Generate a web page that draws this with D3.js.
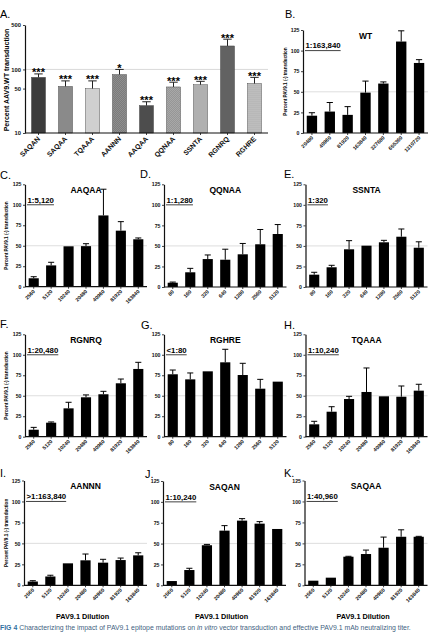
<!DOCTYPE html>
<html>
<head>
<meta charset="utf-8">
<script src="https://cdn.jsdelivr.net/npm/d3@7"></script>
<style>
  body { margin: 0; background: #fff; }
  svg { display: block; font-family: Arial, "Liberation Sans", sans-serif; }
  .tick text { font-weight: bold; fill: #111; }
</style>
</head>
<body>
<div id="fig"></div>
<script>
// ---- panel A: mutants vs AAV9.WT (log scale) ----
const mutants = ["SAQAN", "SAQAA", "TQAAA", "AANNN", "AAQAA", "QQNAA", "SSNTA", "RGNRQ", "RGHRE"];
const mutantMean = [75, 54, 50, 83, 27, 53, 57.5, 234, 60];
const mutantTop = [85, 66, 66, 100, 31, 63, 65, 299, 75];
const mutantStars = ["***", "***", "***", "*", "***", "***", "***", "***", "***"];
const logTicks = [10, 50, 100, 500];

// ---- dilution panels ----
const dilWT = ["20480", "40960", "81920", "163840", "327680", "655360", "1310720"];
const dilHigh = ["2560", "5120", "10240", "20480", "40960", "81920", "163840"];
const dilLow = ["80", "160", "320", "640", "1280", "2560", "5120"];
const pctTicks = [0, 25, 50, 75, 100, 125];

const wtMean = [21, 26, 22, 49, 60, 111, 85];
const wtSD = [3.6, 11, 10, 14, 2, 13, 4];
const aaqaaMean = [10.3, 26, 49.3, 49.5, 87, 68.4, 57.9];
const aaqaaSD = [1.9, 3.8, 0, 3, 32, 11, 1.6];
const qqnaaMean = [5.2, 17.9, 34, 33.2, 39.8, 52, 64.5];
const qqnaaSD = [0.8, 4.8, 5, 12.8, 13.2, 18, 11.5];
const ssntaMean = [15, 24, 45.9, 50.3, 54.4, 61.2, 47.8];
const ssntaSD = [2.9, 2.4, 10.5, 0, 2.4, 9.4, 7.2];
const rgnrqMean = [8.5, 17.1, 34.6, 48.1, 51.8, 65.2, 82.7];
const rgnrqSD = [2.9, 0.9, 7.4, 2.9, 3.6, 5.2, 8.1];
const rghreMean = [76.2, 70, 79.8, 90.8, 75.3, 58.6, 67.2];
const rghreSD = [5.2, 7.8, 0, 15.9, 14.3, 11.4, 0];
const tqaaaMean = [15.1, 30.5, 46, 54.6, 49.3, 48.8, 56.2];
const tqaaaSD = [3.7, 6.1, 3.3, 29.3, 0, 13.1, 7.8];
const aannnMean = [4.5, 10.5, 26.2, 29.8, 27, 30.1, 35.7];
const aannnSD = [1, 1.5, 0, 7.5, 4, 2.4, 3.1];
const saqanMean = [5.1, 18.3, 48, 65.5, 77.5, 73.9, 67.5];
const saqanSD = [0, 2.1, 1, 6, 2.4, 2.4, 0];
const saqaaMean = [5.5, 9.1, 34.1, 37.3, 44.8, 57.9, 57.9];
const saqaaSD = [0, 0, 0.5, 4.7, 12.7, 8.3, 0.5];

const W = 435, H = 632;
const svg = d3.select("#fig").append("svg").attr("width", W).attr("height", H);
const defs = svg.append("defs");

// fill patterns for panel A bars
function hatch(id, base, line, size, kind) {
    const p = defs.append("pattern").attr("id", id).attr("patternUnits", "userSpaceOnUse")
        .attr("width", size).attr("height", size);
    p.append("rect").attr("width", size).attr("height", size).attr("fill", base);
    if (kind === "diag" || kind === "cross") {
        p.append("path").attr("d", `M0,${size} L${size},0`).attr("stroke", line).attr("stroke-width", 0.6);
    }
    if (kind === "cross") {
        p.append("path").attr("d", `M0,0 L${size},${size}`).attr("stroke", line).attr("stroke-width", 0.6);
    }
    if (kind === "dot") {
        p.append("circle").attr("cx", size / 2).attr("cy", size / 2).attr("r", 0.55).attr("fill", line);
    }
}
hatch("pAANNN", "#8e8e8e", "#6f6f6f", 2, "diag");
hatch("pAAQAA", "#5a5a5a", "#444", 2, "cross");
hatch("pQQNAA", "#a8a8a8", "#8a8a8a", 2, "diag");
hatch("pSSNTA", "#c2c2c2", "#a5a5a5", 2, "cross");
hatch("pRGNRQ", "#747474", "#555", 2, "cross");
hatch("pRGHRE", "#c8c8c8", "#8a8a8a", 2, "dot");
const mutantFill = ["#3c3c3c", "#8a8a8a", "#d0d0d0", "url(#pAANNN)", "url(#pAAQAA)",
    "url(#pQQNAA)", "url(#pSSNTA)", "url(#pRGNRQ)", "url(#pRGHRE)"];

function styleAxis(g, size) {
    g.select(".domain").attr("stroke", "#111").attr("stroke-width", 1.2);
    g.selectAll(".tick line").attr("stroke", "#111").attr("stroke-width", 0.8);
    g.selectAll(".tick text").attr("font-size", size);
}

function label(x, y, txt, size, opts = {}) {
    const t = svg.append("text").attr("x", x).attr("y", y).attr("font-size", size).text(txt);
    if (opts.bold) t.attr("font-weight", "bold");
    if (opts.anchor) t.attr("text-anchor", opts.anchor);
    if (opts.rotate) t.attr("transform", `rotate(-90,${x},${y})`);
    return t;
}

// ---- Panel A ----
(function() {
    const x0 = 25, x1 = 268, yb = 133, yt = 25;
    const x = d3.scaleBand().domain(mutants).range([x0, x1]).paddingInner(0.48).paddingOuter(0.24);
    const y = d3.scaleLog().domain([10, 500]).range([yb, yt]);

    svg.append("line").attr("x1", x0).attr("x2", x1).attr("y1", y(100)).attr("y2", y(100))
        .attr("stroke", "#c8c8c8").attr("stroke-width", 0.7);

    const rows = mutants.map((m, i) => ({ m, v: mutantMean[i], top: mutantTop[i], star: mutantStars[i], fill: mutantFill[i] }));

    svg.selectAll(".barA").data(rows).enter().append("rect")
        .attr("x", d => x(d.m)).attr("width", x.bandwidth())
        .attr("y", d => y(d.v)).attr("height", d => yb - y(d.v))
        .attr("fill", d => d.fill).attr("stroke", "#333").attr("stroke-width", 0.4);

    const cap = x.bandwidth() * 0.6;
    rows.forEach(d => {
        const cx = x(d.m) + x.bandwidth() / 2;
        svg.append("line").attr("x1", cx).attr("x2", cx).attr("y1", y(d.v)).attr("y2", y(d.top))
            .attr("stroke", "#222").attr("stroke-width", 1);
        svg.append("line").attr("x1", cx - cap / 2).attr("x2", cx + cap / 2).attr("y1", y(d.top)).attr("y2", y(d.top))
            .attr("stroke", "#222").attr("stroke-width", 1);
        label(cx, y(d.top) + 2.5, d.star, 11, { anchor: "middle", bold: true });
    });

    const gy = svg.append("g").attr("transform", `translate(${x0},0)`)
        .call(d3.axisLeft(y).tickValues(logTicks).tickFormat(d3.format("d")).tickSize(2).tickSizeOuter(0).tickPadding(2));
    styleAxis(gy, 5.8);
    const gx = svg.append("g").attr("transform", `translate(0,${yb})`)
        .call(d3.axisBottom(x).tickSize(2).tickSizeOuter(0));
    styleAxis(gx, 7);
    gx.select(".domain").attr("d", `M${x0},0H${x1}`);
    gx.selectAll(".tick text").attr("text-anchor", "end").attr("x", -3).attr("y", 3.5).attr("dy", "0.35em")
        .attr("transform", "rotate(-45)");

    label(9, (yb + yt) / 2 + 1, "Percent AAV9.WT transduction", 7, { bold: true, anchor: "middle", rotate: true });
    label(0, 18, "A.", 11);
})();

// ---- dilution panels ----
const panels = [
    { key: "B", title: "WT", titer: "1:163,840", cats: dilWT, mean: wtMean, sd: wtSD,
      x0: 303, x1: 428, y0: 133, y1: 30, lx: 285, ly: 18, ylab: 287 },
    { key: "C", title: "AAQAA", titer: "1:5,120", cats: dilHigh, mean: aaqaaMean, sd: aaqaaSD,
      x0: 25, x1: 147, y0: 286.7, y1: 184.3, lx: 0, ly: 179, ylab: 8 },
    { key: "D", title: "QQNAA", titer: "1:1,280", cats: dilLow, mean: qqnaaMean, sd: qqnaaSD,
      x0: 164, x1: 286.5, y0: 287, y1: 184.3, lx: 140, ly: 178 },
    { key: "E", title: "SSNTA", titer: "1:320", cats: dilLow, mean: ssntaMean, sd: ssntaSD,
      x0: 305.5, x1: 427.5, y0: 287, y1: 184.3, lx: 284, ly: 178 },
    { key: "F", title: "RGNRQ", titer: "1:20,480", cats: dilHigh, mean: rgnrqMean, sd: rgnrqSD,
      x0: 25, x1: 147, y0: 436.7, y1: 334.3, lx: 0, ly: 328, ylab: 8 },
    { key: "G", title: "RGHRE", titer: "<1:80", cats: dilLow, mean: rghreMean, sd: rghreSD,
      x0: 164, x1: 286.5, y0: 436.7, y1: 334.3, lx: 141, ly: 329 },
    { key: "H", title: "TQAAA", titer: "1:10,240", cats: dilHigh, mean: tqaaaMean, sd: tqaaaSD,
      x0: 305.5, x1: 427.5, y0: 436.7, y1: 334.3, lx: 284, ly: 329 },
    { key: "I", title: "AANNN", titer: ">1:163,840", cats: dilHigh, mean: aannnMean, sd: aannnSD,
      x0: 24, x1: 147, y0: 585.3, y1: 480.5, lx: 0, ly: 477, ylab: 8, xlab: true },
    { key: "J", title: "SAQAN", titer: "1:10,240", cats: dilHigh, mean: saqanMean, sd: saqanSD,
      x0: 163, x1: 286, y0: 585.3, y1: 481, lx: 145, ly: 477.5, xlab: true },
    { key: "K", title: "SAQAA", titer: "1:40,960", cats: dilHigh, mean: saqaaMean, sd: saqaaSD,
      x0: 304.5, x1: 427.5, y0: 585.3, y1: 480.5, lx: 284, ly: 476.5, xlab: true }
];

panels.forEach(p => {
    const x = d3.scaleBand().domain(p.cats).range([p.x0, p.x1]).paddingInner(0.42).paddingOuter(0.21);
    const y = d3.scaleLinear().domain([0, 125]).range([p.y0, p.y1]);

    svg.append("line").attr("x1", p.x0).attr("x2", p.x1).attr("y1", y(50)).attr("y2", y(50))
        .attr("stroke", "#c8c8c8").attr("stroke-width", 0.6);

    const rows = p.cats.map((c, i) => ({ c, v: p.mean[i], sd: p.sd[i] }));
    const cap = x.bandwidth() * 0.6;

    rows.forEach(d => {
        const cx = x(d.c) + x.bandwidth() / 2;
        if (d.sd > 0) {
            svg.append("line").attr("x1", cx).attr("x2", cx).attr("y1", y(d.v)).attr("y2", y(d.v + d.sd))
                .attr("stroke", "#000").attr("stroke-width", 1);
            svg.append("line").attr("x1", cx - cap / 2).attr("x2", cx + cap / 2)
                .attr("y1", y(d.v + d.sd)).attr("y2", y(d.v + d.sd))
                .attr("stroke", "#000").attr("stroke-width", 1);
        }
    });

    svg.append("g").selectAll("rect").data(rows).enter().append("rect")
        .attr("x", d => x(d.c)).attr("width", x.bandwidth())
        .attr("y", d => y(d.v)).attr("height", d => p.y0 - y(d.v))
        .attr("fill", "#000");

    const gy = svg.append("g").attr("transform", `translate(${p.x0},0)`)
        .call(d3.axisLeft(y).tickValues(pctTicks).tickSize(2).tickSizeOuter(0).tickPadding(1.5));
    styleAxis(gy, 5.2);
    const gx = svg.append("g").attr("transform", `translate(0,${p.y0})`)
        .call(d3.axisBottom(x).tickSize(2).tickSizeOuter(0));
    styleAxis(gx, 5.2);
    gx.select(".domain").attr("d", `M${p.x0},0H${p.x1}`);
    gx.selectAll(".tick text").attr("text-anchor", "end").attr("x", -2.5).attr("y", 3)
        .attr("dy", "0.35em").attr("transform", "rotate(-45)");

    // title, titer, labels
    label((p.x0 + p.x1) / 2, p.y1 + 8.7, p.title, 8.5, { bold: true, anchor: "middle" });
    const tt = label(p.x0 + 2.5, y(100) - 2.2, p.titer, 7.8, { bold: true });
    const tw = tt.node().getComputedTextLength();
    svg.append("line").attr("x1", p.x0 + 2).attr("x2", p.x0 + 2.5 + tw)
        .attr("y1", y(100)).attr("y2", y(100)).attr("stroke", "#111").attr("stroke-width", 0.8);

    label(p.lx, p.ly, p.key + ".", 11);
    if (p.ylab !== undefined) {
        label(p.ylab, (p.y0 + p.y1) / 2, "Percent PAV9.1 (-) transduction", 4.6, { bold: true, anchor: "middle", rotate: true });
    }
    if (p.xlab) {
        label((p.x0 + p.x1) / 2 - 3, 618.5, "PAV9.1 Dilution", 7.3, { bold: true, anchor: "middle" });
    }
});

// caption at page bottom
const cap = svg.append("text").attr("x", 0).attr("y", 630).attr("font-size", 6.9).attr("fill", "#3f5f7f");
cap.append("tspan").attr("font-weight", "bold").attr("fill", "#2f6f9f").text("FIG 4 ");
cap.append("tspan").text("Characterizing the impact of PAV9.1 epitope mutations on ");
cap.append("tspan").attr("font-style", "italic").text("in vitro");
cap.append("tspan").text(" vector transduction and effective PAV9.1 mAb neutralizing titer.");
</script>
</body>
</html>
